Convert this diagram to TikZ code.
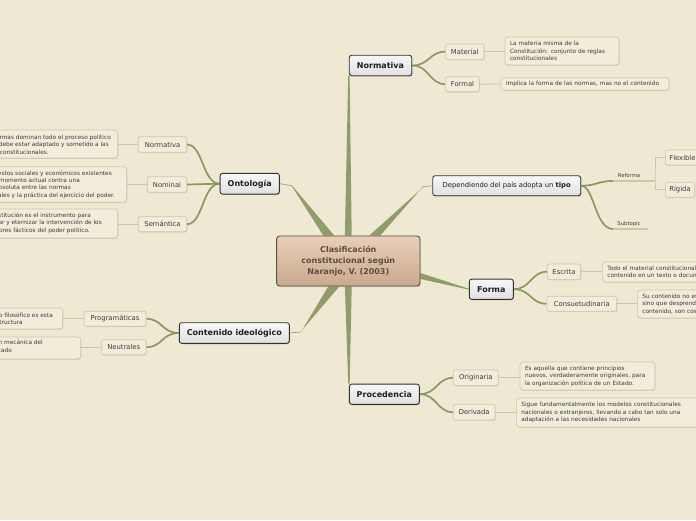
\documentclass[tikz,border=0pt]{standalone}
\usepackage{fontspec}
\setmainfont{DejaVu Sans}
\usetikzlibrary{shadows,calc}
\definecolor{bgc}{RGB}{239,232,211}
\definecolor{brc}{RGB}{143,158,104}
\definecolor{scc}{RGB}{138,153,96}
\definecolor{llc}{RGB}{200,200,162}
\definecolor{subfill}{RGB}{242,237,219}
\definecolor{subborder}{RGB}{204,199,168}
\definecolor{txt}{RGB}{60,60,55}
\definecolor{mainborder}{RGB}{50,50,50}
\definecolor{ctop}{RGB}{233,206,184}
\definecolor{cbot}{RGB}{201,170,144}
\definecolor{cborder}{RGB}{95,80,62}
\definecolor{ctext}{RGB}{92,78,60}
\pgfdeclarelayer{bgl}
\pgfdeclarelayer{edges}
\pgfsetlayers{bgl,edges,main}
\tikzset{
  wh/.style 2 args={minimum width=#1, minimum height=#2},
  centre/.style={draw=cborder, line width=0.9pt, rounded corners=3pt, top color=ctop, bottom color=cbot,
    font=\fontsize{8}{10.8}\selectfont\bfseries, text=ctext, align=center, inner sep=0pt,
    drop shadow={shadow xshift=0.8pt, shadow yshift=-1pt, opacity=0.3}},
  maintopic/.style={draw=mainborder, line width=0.9pt, rounded corners=2.5pt, top color=white!97!black,
    bottom color=white!88!black, font=\fontsize{8}{9.6}\selectfont\bfseries, text=black!88, inner sep=0pt,
    drop shadow={shadow xshift=0.8pt, shadow yshift=-1pt, opacity=0.35}},
  subtopic/.style={draw=subborder, line width=0.7pt, rounded corners=2pt, fill=subfill,
    font=\fontsize{6.8}{8}\selectfont, text=txt, inner sep=0pt,
    drop shadow={shadow xshift=0.6pt, shadow yshift=-0.9pt, opacity=0.2}},
  leaf/.style={draw=subborder, line width=0.7pt, rounded corners=3pt, fill=subfill,
    font=\fontsize{5.8}{7.4}\selectfont, text=txt, inner ysep=0pt, inner xsep=5pt, align=left,
    drop shadow={shadow xshift=0.6pt, shadow yshift=-0.9pt, opacity=0.2}},
  ln/.style={font=\fontsize{5.8}{7.4}\selectfont, text=txt, inner sep=0pt, anchor=base east},
  tiny/.style={font=\fontsize{5.3}{6}\selectfont, text=txt, inner sep=0pt},
  sc/.style={draw=scc, line width=1.7pt},
  lk/.style={draw=llc, line width=0.8pt},
}
\begin{document}
\begin{tikzpicture}[x=1pt,y=-1pt]
\begin{pgfonlayer}{bgl}
\fill[bgc] (0,0) rectangle (696,520);
\end{pgfonlayer}
\useasboundingbox (0,0) rectangle (696,520);
\clip (0,0) rectangle (696,520);

% centre
\node[centre, wh={143.3}{50}] (c) at (348.3,261) {Clasificación\\constitucional según\\Naranjo, V. (2003)};

% main topics
\node[maintopic, wh={62.5}{20.5}] (n1) at (380.5,65.5) {Normativa};
\node[maintopic, wh={148}{20}, font=\fontsize{6.8}{8}\selectfont] (dep) at (506.7,185.7) {Dependiendo del país adopta un \textbf{tipo}};
\node[maintopic, wh={44}{20.3}] (forma) at (491.3,289.2) {Forma};
\node[maintopic, wh={70}{20.3}] (proc) at (384.3,394.2) {Procedencia};
\node[maintopic, wh={110}{20.6}] (cont) at (234.3,333) {Contenido ideológico};
\node[maintopic, wh={59.3}{20.7}] (ont) at (249.7,183.7) {Ontología};

% subtopics
\node[subtopic, wh={38.3}{15.3}] (mat) at (464.8,51.7) {Material};
\node[subtopic, wh={33.6}{15}] (fml) at (462.5,84.2) {Formal};
\node[subtopic, wh={33.4}{15.3}] (esc) at (564,271.7) {Escrita};
\node[subtopic, wh={69.7}{15}] (cons) at (581.8,303.8) {Consuetudinaria};
\node[subtopic, wh={45}{15.7}] (orig) at (475.8,377.8) {Originaria};
\node[subtopic, wh={41.7}{15.7}] (der) at (474.2,412.2) {Derivada};
\node[subtopic, wh={48.4}{15.6}] (on1) at (162.5,144.5) {Normativa};
\node[subtopic, wh={39.4}{15.6}] (on2) at (167,184.5) {Nominal};
\node[subtopic, wh={48.4}{15}] (on3) at (162.5,224.2) {Semántica};
\node[subtopic, wh={62}{15}] (prog) at (115,318.8) {Programáticas};
\node[subtopic, wh={44.3}{15}] (neu) at (123.8,347.2) {Neutrales};
\node[subtopic, minimum height=15, inner xsep=4pt, anchor=west] (flex) at (665,157.5) {Flexible};
\node[subtopic, minimum height=15, inner xsep=4pt, anchor=west] (rig) at (665,189.8) {Rígida};

% tiny labels under Dependiendo
\node[tiny] (rft) at (629,175.5) {Reforma};
\node[tiny] (stt) at (629,224.5) {Subtopic};
\coordinate (rfa) at (613,181);
\coordinate (rfb) at (655,181);
\coordinate (sta) at (613,229);
\coordinate (stb) at (648,229);

% leaf boxes, right side
\node[leaf, text width=104, minimum height=28] (matT) at (562,51) {La materia misma de la\\Constitución: conjunto de reglas\\constitucionales};
\node[leaf, text width=158, minimum height=12.5] (fmlT) at (585,84) {Implica la forma de las normas, mas no el contenido};
\node[leaf, text width=150, minimum height=20, anchor=west] (escT) at (602,272) {Todo el material constitucional está\\contenido en un texto o documento};
\node[leaf, text width=150, minimum height=28, anchor=west] (consT) at (637,304) {Su contenido no está escrito,\\sino que desprende de la costumbre, su\\contenido, son costumbres};
\node[leaf, text width=125, minimum height=28] (origT) at (587.5,376) {Es aquella que contiene principios\\nuevos, verdaderamente originales, para\\la organización política de un Estado.};
\node[leaf, text width=176, minimum height=29, anchor=west] (derT) at (516,412.5) {Sigue fundamentalmente los modelos constitucionales\\nacionales o extranjeros, llevando a cabo tan solo una\\adaptación a las necesidades nacionales};

% leaf boxes, left side (cut by the page edge)
\node[leaf, wh={150}{28}, anchor=east] (o1T) at (118,144) {};
\node[ln] (o1a) at (111,139.3) {Las normas dominan todo el proceso político};
\node[ln] (o1b) at (109,146.6) {y el poder debe estar adaptado y sometido a las};
\node[ln] (o1c) at (49,154) {normas constitucionales.};
\node[leaf, wh={160}{35.5}, anchor=east] (o2T) at (127,184.5) {};
\node[ln] (o2a) at (112,175.2) {Los presupuestos sociales y económicos existentes};
\node[ln] (o2b) at (80,182.4) {en el momento actual contra una};
\node[ln] (o2c) at (71,189.6) {concordancia absoluta entre las normas};
\node[ln] (o2d) at (115,197) {constitucionales y la práctica del ejercicio del poder.};
\node[leaf, wh={150}{29}, anchor=east] (o3T) at (118,223.5) {};
\node[ln] (o3a) at (91,217.2) {La constitución es el instrumento para};
\node[ln] (o3b) at (102,224.6) {estabilizar y eternizar la intervención de los};
\node[ln] (o3c) at (90,232.2) {dominadores fácticos del poder político.};
\node[leaf, wh={90}{21}, anchor=east] (pT) at (63,318.5) {};
\node[ln] (pa) at (53,317) {Su fundamento filosófico es esta};
\node[ln] (pb) at (23,324.6) {estructura};
\node[leaf, wh={110}{22}, anchor=east] (nT) at (81,348) {};
\node[ln] (na) at (43,344.7) {Es una organización mecánica del};
\node[ln] (nb) at (12,352.8) {poder del Estado, sin ideal marcado};

\begin{pgfonlayer}{edges}
% tapered main branches
\fill[brc] ([xshift=-3.4pt]c.north) -- ([xshift=3.4pt]c.north) -- ([xshift=0.8pt]n1.south west) -- ([xshift=-0.6pt]n1.south west) -- cycle;
\fill[brc] ([xshift=-3.4pt]c.south) -- ([xshift=3.4pt]c.south) -- ([xshift=0.8pt]proc.north west) -- ([xshift=-0.6pt]proc.north west) -- cycle;
\coordinate (dj) at ($(dep.west)+(-9,1)$);
\fill[brc] ([xshift=21pt]c.north) -- ([xshift=32pt]c.north) -- ([yshift=0.4pt]dj) -- ([yshift=-0.4pt]dj) -- cycle;
\draw[brc, line width=0.6pt] (dj) -- (dep.west);
\coordinate (oj) at ($(ont.east)+(12,2)$);
\fill[brc] ([xshift=-25pt]c.north) -- ([xshift=-14pt]c.north) -- ([yshift=0.4pt]oj) -- ([yshift=-0.4pt]oj) -- cycle;
\draw[brc, line width=0.6pt] (oj) -- (ont.east);
\coordinate (cj) at ($(cont.east)+(11,-1)$);
\fill[brc] ([xshift=-20pt]c.south) -- ([xshift=-9pt]c.south) -- ([yshift=0.4pt]cj) -- ([yshift=-0.4pt]cj) -- cycle;
\draw[brc, line width=0.6pt] (cj) -- (cont.east);
\fill[brc] ([yshift=-12pt]c.east) -- ([yshift=-18pt]c.east) -- ([yshift=-0.4pt]forma.west) -- ([yshift=0.4pt]forma.west) -- cycle;

% sub-branches
\draw[sc] (n1.east) .. controls +(17,0) and +(-16,0) .. (mat.west);
\draw[sc] (n1.east) .. controls +(17,0) and +(-16,0) .. (fml.west);
\draw[sc] (forma.east) .. controls +(17,0) and +(-16,0) .. (esc.west);
\draw[sc] (forma.east) .. controls +(17,0) and +(-16,0) .. (cons.west);
\draw[sc] (proc.east) .. controls +(17,0) and +(-16,0) .. (orig.west);
\draw[sc] (proc.east) .. controls +(17,0) and +(-16,0) .. (der.west);
\draw[sc] (ont.west) .. controls +(-17,0) and +(16,0) .. (on1.east);
\draw[sc] (ont.west) -- (on2.east);
\draw[sc] (ont.west) .. controls +(-17,0) and +(16,0) .. (on3.east);
\draw[sc] (cont.west) .. controls +(-17,0) and +(16,0) .. (prog.east);
\draw[sc] (cont.west) .. controls +(-17,0) and +(16,0) .. (neu.east);
\draw[sc] (dep.east) .. controls +(16,0) and +(-16,0) .. (rfa);
\draw[sc] (dep.east) .. controls +(13,0) and +(-18,0) .. (sta);

% leaf links
\draw[lk] (mat.east) -- (mat.east -| matT.west);
\draw[lk] (fml.east) -- (fmlT.west);
\draw[lk] (esc.east) -- (esc.east -| escT.west);
\draw[lk] (cons.east) -- (cons.east -| consT.west);
\draw[lk] (orig.east) -- (orig.east -| origT.west);
\draw[lk] (der.east) -- (der.east -| derT.west);
\draw[lk] (on1.west) -- (on1.west -| o1T.east);
\draw[lk] (on2.west) -- (on2.west -| o2T.east);
\draw[lk] (on3.west) -- (on3.west -| o3T.east);
\draw[lk] (prog.west) -- (prog.west -| pT.east);
\draw[lk] (neu.west) -- (neu.west -| nT.east);
\draw[llc, line width=1.4pt] (rfa) -- (rfb);
\draw[llc, line width=1.4pt] (sta) -- (stb);
\draw[lk] (flex.west) -| (rfb) |- (rig.west);
\end{pgfonlayer}
\end{tikzpicture}
\end{document}
